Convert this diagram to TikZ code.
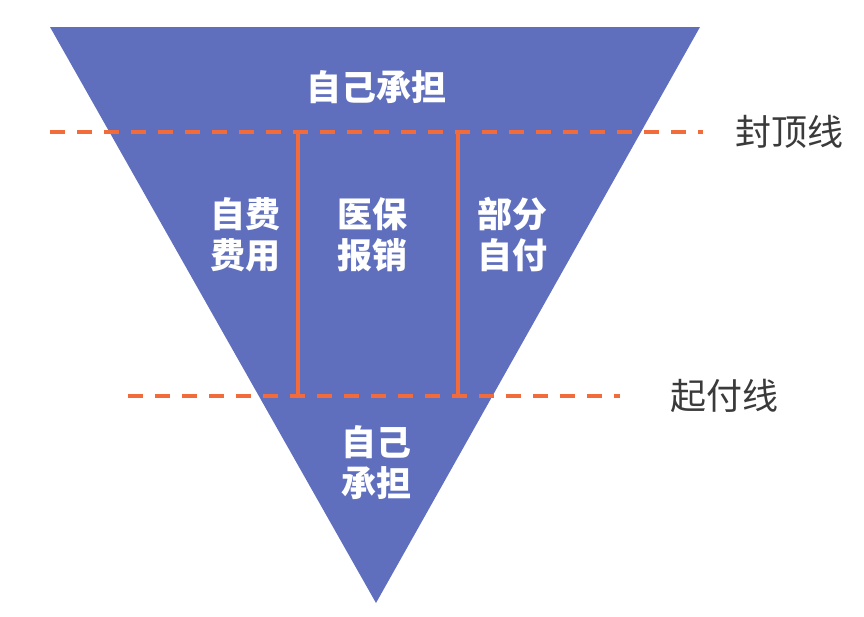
\documentclass[tikz,border=0pt]{standalone}
\usepackage{fontspec}
\setmainfont{Noto Sans CJK SC}[BoldFont={* Black}]
\usepackage{xcolor}
\usepackage{tikz}

\definecolor{funnel}{HTML}{5F6FBE}
\definecolor{limit}{HTML}{F26B3A}
\definecolor{caption}{HTML}{3A3A3A}

\begin{document}
\begin{tikzpicture}[x=1pt,y=-1pt,
    part/.style={text=white,font=\bfseries\fontsize{35}{41}\selectfont,align=center},
    linelabel/.style={text=caption,font=\fontsize{36}{40}\selectfont,anchor=west},
    cutline/.style={limit,line width=4pt,dash pattern=on 15pt off 12pt},
    bound/.style={limit,line width=3.5pt}]
    \useasboundingbox (0,0) rectangle (864,616);
    % funnel
    \fill[funnel] (50,27) -- (700,27) -- (376,603) -- cycle;
    % line ends
    \coordinate (capL) at (50,132);
    \coordinate (capR) at (703,132);
    \coordinate (dedL) at (128,396);
    \coordinate (dedR) at (620,396);
    \coordinate (boxTL) at (298,132);
    \coordinate (boxBL) at (298,396);
    \coordinate (boxTR) at (458,132);
    \coordinate (boxBR) at (458,396);
    \draw[cutline] (capL) -- (capR);
    \draw[cutline] (dedL) -- (dedR);
    \draw[bound] (boxTL) -- (boxBL);
    \draw[bound] (boxTR) -- (boxBR);
    % texts
    \node [part] (own1) at (376,87) {自己承担};
    \node [part] (self) at (245,235) {自费\\费用};
    \node [part] (insur) at (372,235) {医保\\报销};
    \node [part] (copay) at (512,235) {部分\\自付};
    \node [part] (own2) at (376,463) {自己\\承担};
    \node [linelabel] (capname) at (732,132) {封顶线};
    \node [linelabel] (dedname) at (667,396) {起付线};
\end{tikzpicture}
\end{document}
